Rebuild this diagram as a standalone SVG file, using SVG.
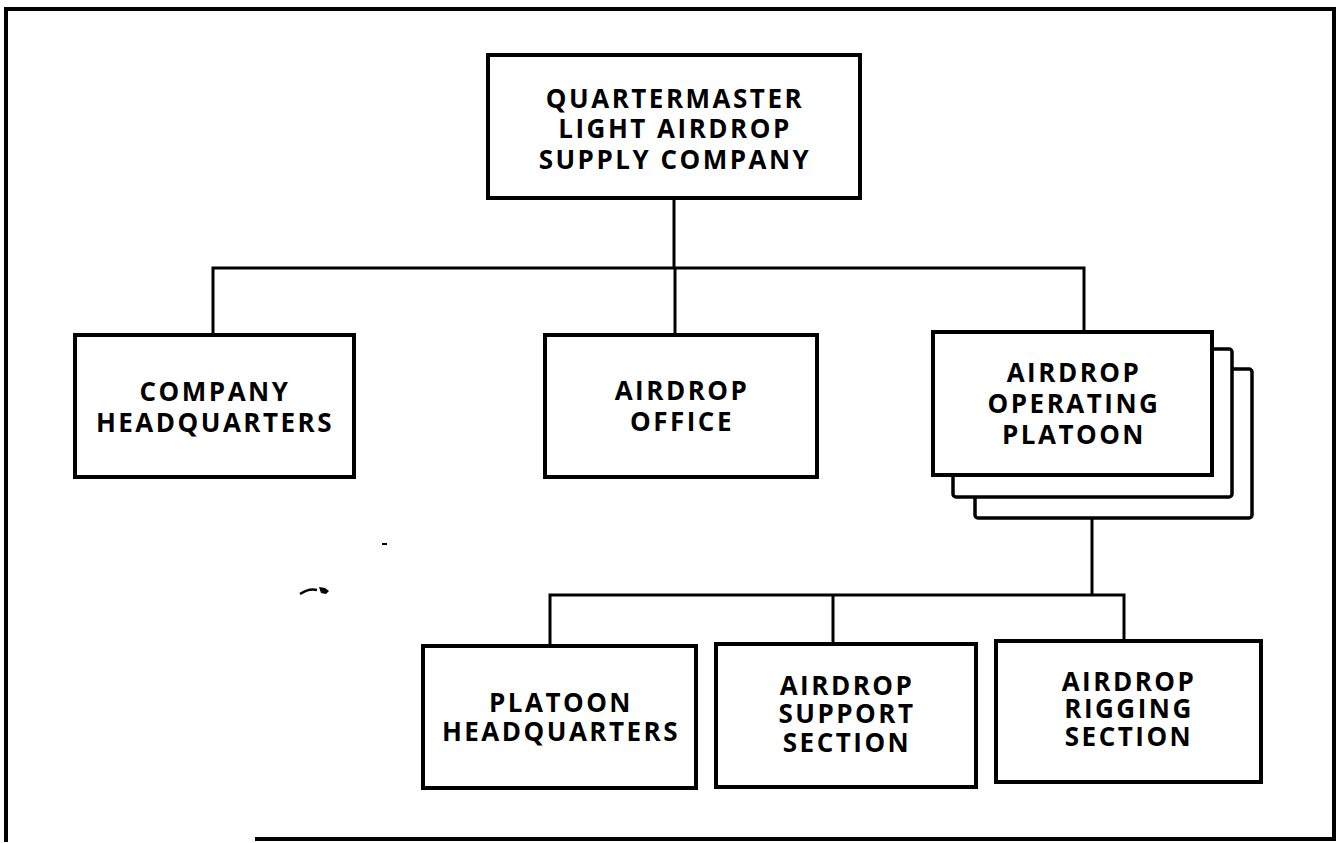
<svg xmlns="http://www.w3.org/2000/svg" width="1338" height="843" viewBox="0 0 1338 843">
<style>
.box{fill:#fff;stroke:#000;stroke-width:4}
.stk{fill:#fff;stroke:#000;stroke-width:3.5}
.con{fill:none;stroke:#000;stroke-width:3}
.frame{fill:none;stroke:#000;stroke-width:4}
text{font-family:"Open Sans","DejaVu Sans",sans-serif;font-weight:700;font-size:26px;letter-spacing:2.5px;text-anchor:middle;fill:#000}
</style>
<rect width="1338" height="843" fill="#fff"/>
<path class="frame" d="M255 839 H1334 V9 H6 V842"/>
<g id="connectors">
<path class="con" d="M674 198 V268"/>
<path class="con" d="M213 335 V268 H1084 V332"/>
<path class="con" d="M675 268 V335"/>
<path class="con" d="M1092 518 V595"/>
<path class="con" d="M550 646 V595 H1124 V641"/>
<path class="con" d="M833 595 V644"/>
</g>
<g id="company">
<rect class="box" x="488" y="55" width="372" height="143"/>
<text x="675" y="107.5">QUARTERMASTER</text>
<text x="675" y="138">LIGHT AIRDROP</text>
<text x="675" y="168.5">SUPPLY COMPANY</text>
</g>
<g id="company-hq">
<rect class="box" x="75" y="335" width="279" height="142"/>
<text x="215" y="401">COMPANY</text>
<text x="215" y="432">HEADQUARTERS</text>
</g>
<g id="airdrop-office">
<rect class="box" x="545" y="335" width="272" height="142"/>
<text x="682" y="400">AIRDROP</text>
<text x="682" y="431">OFFICE</text>
</g>
<g id="operating-platoon">
<rect class="stk" x="975" y="369" width="277" height="149" rx="3"/>
<rect class="stk" x="953" y="349" width="279" height="148" rx="3"/>
<rect class="box" x="933" y="332" width="279" height="143"/>
<text x="1074" y="382">AIRDROP</text>
<text x="1074" y="413">OPERATING</text>
<text x="1074" y="444">PLATOON</text>
</g>
<g id="platoon-hq">
<rect class="box" x="423" y="646" width="273" height="142"/>
<text x="561" y="712">PLATOON</text>
<text x="561" y="741">HEADQUARTERS</text>
</g>
<g id="support-section">
<rect class="box" x="716" y="644" width="260" height="143"/>
<text x="847" y="695">AIRDROP</text>
<text x="847" y="723">SUPPORT</text>
<text x="847" y="752">SECTION</text>
</g>
<g id="rigging-section">
<rect class="box" x="996" y="641" width="265" height="141"/>
<text x="1129" y="691">AIRDROP</text>
<text x="1129" y="718">RIGGING</text>
<text x="1129" y="746">SECTION</text>
</g>
<rect x="382" y="543" width="5" height="2" fill="#000"/>
<path d="M300 594 Q309 588 317 590" fill="none" stroke="#000" stroke-width="2.5"/>
<path d="M319 587 L325 588 L329 591 L326 594 L321 593 Z" fill="#000"/>
</svg>
